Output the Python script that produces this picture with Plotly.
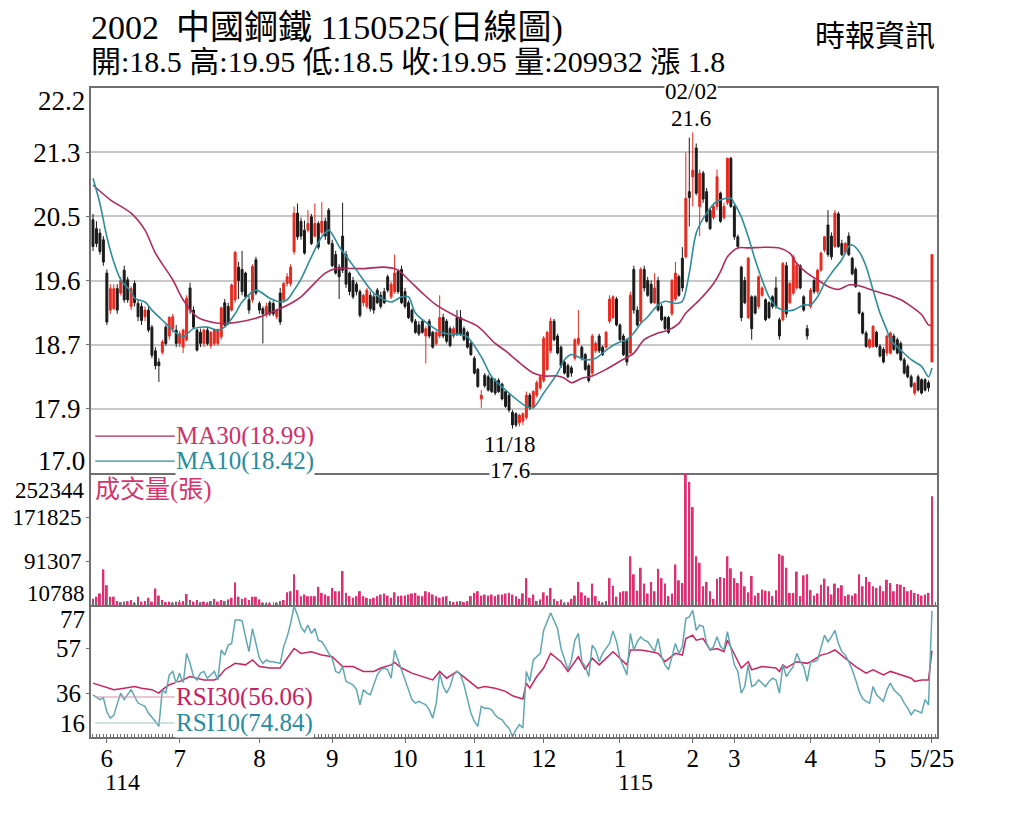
import numpy as np
import plotly.graph_objects as go
from plotly.subplots import make_subplots

title_txt = "2002  中國鋼鐵 1150525(日線圖)"
source_txt = "時報資訊"

# x axis: trading-day index, month labels at the first session of each month
month_idx = [4, 25, 48, 69, 90, 110, 130, 152, 173, 185, 207, 227, 242]
month_txt = ["6", "7", "8", "9", "10", "11", "12", "1", "2", "3", "4", "5", "5/25"]
year_idx = [4, 152]
year_txt = ["114", "115"]
hi_date = "02/02"
lo_date = "11/18"

# daily candles, 114/05/26 .. 115/05/25
opens = [
    20.42, 20.30, 20.24, 20.15,
    19.70, 19.20, 19.22, 19.49, 19.43, 19.74, 19.61, 19.25, 19.56, 19.29, 19.25, 19.11, 19.20, 18.97, 18.65, 18.50, 18.63, 18.97, 18.85, 18.95, 18.93,
    18.75, 18.70, 18.80, 19.50, 19.20, 18.93, 18.90, 18.75, 18.93, 18.72, 18.75, 18.75, 18.84, 19.30, 19.25, 19.20, 19.34, 19.78, 19.75, 19.70, 19.34, 19.34, 19.88,
    19.29, 19.22, 19.15, 19.30, 19.29, 19.11, 19.43, 19.34, 19.56, 19.56, 19.99, 20.51, 20.40, 20.28, 20.28, 20.46, 20.20, 20.37, 20.25, 20.40, 20.55,
    20.10, 19.95, 19.78, 20.20, 19.95, 19.70, 19.60, 19.55, 19.45, 19.30, 19.25, 19.40, 19.38, 19.47, 19.40, 19.45, 19.65, 19.38, 19.45, 19.72, 19.75,
    19.45, 19.30, 19.20, 19.05, 19.00, 19.05, 18.85, 19.05, 18.90, 18.75, 18.85, 19.10, 19.05, 18.95, 18.85, 19.10, 19.10, 18.95, 18.90, 18.75,
    18.55, 18.40, 18.00, 18.32, 18.30, 18.28, 18.25, 18.25, 18.20, 18.10, 18.05, 17.82, 17.80, 17.68, 17.70, 17.75, 18.05, 17.90, 18.05, 18.15,
    18.25, 18.40, 18.65, 19.05, 18.85, 18.70, 18.50, 18.45, 18.42, 18.55, 18.75, 18.70, 18.60, 18.45, 18.35, 18.65, 18.85, 18.70, 18.70, 19.05, 19.10, 19.35,
    19.00, 18.85, 18.80, 18.62, 19.75, 19.20, 19.05, 19.75, 19.60, 19.55, 19.30, 19.60, 19.25, 19.10, 19.10, 19.15, 19.35, 19.65, 19.90, 19.92, 20.80,
    21.00, 21.39, 20.60, 21.05, 20.80, 20.55, 20.45, 20.60, 20.78, 20.45, 20.65, 21.25,
    20.60, 20.19, 19.78, 19.60, 19.10, 19.38, 19.38, 19.25, 19.40, 19.34, 19.30, 19.38, 19.50, 19.07, 19.07, 19.80, 19.30, 19.43, 19.50, 19.80, 19.38, 18.95,
    19.25, 19.60, 19.45, 19.74, 20.01, 20.35, 20.20, 20.06, 20.50, 20.10, 19.98, 20.20, 19.90, 19.75, 19.43, 19.16, 18.89, 18.70, 18.71, 18.90,
    18.71, 18.67, 18.62, 18.62, 18.85, 18.80, 18.75, 18.53, 18.44, 18.30, 18.08, 18.30, 18.26, 18.26, 18.22, 18.50,
]
highs = [
    20.50, 20.40, 20.30, 20.20,
    19.75, 19.55, 19.55, 19.55, 19.65, 19.80, 19.65, 19.52, 19.60, 19.35, 19.30, 19.25, 19.25, 19.00, 18.70, 18.55, 18.80, 19.00, 19.12, 19.15, 19.00,
    18.92, 18.95, 19.40, 19.57, 19.25, 18.95, 18.95, 18.95, 18.97, 18.92, 18.95, 18.95, 19.25, 19.35, 19.30, 19.56, 20.00, 19.85, 20.00, 19.72, 19.40, 19.82, 19.92,
    19.32, 19.25, 19.30, 19.33, 19.32, 19.22, 19.50, 19.58, 19.70, 19.82, 20.60, 20.64, 20.45, 20.41, 20.55, 20.50, 20.64, 20.40, 20.66, 20.45, 20.58,
    20.15, 20.00, 19.82, 20.65, 20.00, 19.72, 19.65, 19.58, 19.48, 19.42, 19.50, 19.45, 19.42, 19.50, 19.45, 19.50, 19.68, 19.58, 19.95, 19.75, 19.80,
    19.50, 19.33, 19.22, 19.08, 19.05, 19.08, 18.98, 19.08, 18.92, 18.92, 19.40, 19.15, 19.08, 18.98, 18.98, 19.20, 19.20, 18.98, 18.92, 18.78,
    18.58, 18.42, 18.12, 18.35, 18.33, 18.30, 18.28, 18.28, 18.22, 18.12, 18.08, 17.85, 17.82, 17.80, 17.82, 18.10, 18.08, 18.12, 18.25, 18.32,
    18.85, 18.92, 19.10, 19.08, 18.88, 18.72, 18.52, 18.48, 18.45, 18.82, 19.20, 18.72, 18.62, 18.48, 18.88, 18.78, 18.88, 18.72, 18.92, 19.40, 19.40, 19.38,
    19.02, 18.88, 18.82, 19.45, 19.80, 19.25, 19.78, 19.80, 19.65, 19.60, 19.70, 19.65, 19.28, 19.12, 19.12, 19.62, 19.85, 19.68, 20.05, 21.33, 21.53,
    21.60, 21.45, 21.10, 21.08, 20.85, 20.58, 20.65, 21.10, 20.80, 20.65, 21.26, 21.27,
    20.62, 20.22, 19.80, 19.65, 19.92, 19.40, 19.40, 19.67, 19.52, 19.36, 19.32, 19.40, 19.65, 19.10, 19.85, 19.85, 19.58, 19.95, 19.85, 19.82, 19.40, 19.00,
    19.50, 19.63, 19.76, 19.99, 20.20, 20.55, 20.25, 20.55, 20.53, 20.15, 20.12, 20.25, 19.92, 19.78, 19.45, 19.18, 18.92, 18.82, 19.00, 18.92,
    18.74, 18.70, 18.87, 18.91, 18.88, 18.83, 18.78, 18.56, 18.47, 18.33, 18.23, 18.33, 18.28, 18.28, 18.25, 19.95,
]
lows = [
    20.00, 20.05, 19.95, 19.80,
    19.00, 19.15, 19.20, 19.15, 19.40, 19.30, 19.30, 19.20, 19.25, 19.05, 19.00, 19.05, 18.90, 18.55, 18.40, 18.23, 18.60, 18.72, 18.80, 18.90, 18.70,
    18.70, 18.62, 18.78, 19.15, 18.95, 18.64, 18.70, 18.70, 18.72, 18.68, 18.72, 18.72, 18.80, 18.98, 19.00, 19.18, 19.30, 19.35, 19.40, 19.35, 19.15, 19.30, 19.40,
    19.15, 18.75, 19.10, 19.12, 19.12, 19.08, 19.00, 19.30, 19.52, 19.52, 19.95, 20.15, 20.15, 19.95, 20.25, 20.08, 20.18, 20.02, 20.22, 20.15, 20.08,
    19.78, 19.68, 19.35, 19.70, 19.50, 19.40, 19.35, 19.40, 19.10, 19.25, 19.22, 19.18, 19.15, 19.28, 19.22, 19.28, 19.44, 19.35, 19.42, 19.42, 19.28,
    19.22, 19.08, 19.02, 18.88, 18.85, 18.88, 18.48, 18.82, 18.68, 18.72, 18.82, 18.82, 18.75, 18.70, 18.82, 18.85, 18.85, 18.78, 18.68, 18.58,
    18.33, 18.15, 17.88, 18.15, 18.10, 18.08, 18.05, 18.08, 17.98, 17.88, 17.82, 17.60, 17.62, 17.63, 17.65, 17.72, 17.85, 17.88, 18.02, 18.12,
    18.22, 18.38, 18.62, 18.78, 18.60, 18.42, 18.33, 18.28, 18.30, 18.52, 18.72, 18.52, 18.38, 18.22, 18.32, 18.62, 18.62, 18.58, 18.68, 19.02, 19.08, 18.98,
    18.78, 18.58, 18.45, 18.60, 19.15, 18.98, 19.02, 19.45, 19.38, 19.28, 19.28, 19.18, 19.05, 18.93, 18.88, 19.12, 19.32, 19.38, 19.45, 19.90, 20.33,
    20.60, 20.75, 20.20, 20.65, 20.38, 20.28, 20.42, 20.55, 20.38, 20.42, 20.62, 20.58,
    20.15, 20.04, 19.05, 19.28, 19.08, 18.80, 19.14, 19.22, 19.38, 19.05, 19.08, 19.22, 19.22, 18.80, 19.05, 19.10, 19.28, 19.40, 19.48, 19.48, 19.18, 18.80,
    19.22, 19.42, 19.42, 19.72, 19.98, 19.92, 19.88, 20.04, 20.04, 19.93, 19.96, 19.93, 19.67, 19.50, 19.14, 18.87, 18.69, 18.68, 18.69, 18.69,
    18.56, 18.48, 18.58, 18.60, 18.65, 18.60, 18.51, 18.33, 18.28, 18.15, 18.05, 18.10, 18.06, 18.10, 18.10, 18.50,
]
closes = [
    20.06, 20.10, 19.99, 19.85,
    19.04, 19.49, 19.49, 19.20, 19.60, 19.34, 19.34, 19.49, 19.30, 19.11, 19.06, 19.20, 18.93, 18.59, 18.45, 18.45, 18.77, 18.75, 19.10, 19.11, 18.75,
    18.88, 18.93, 19.36, 19.20, 18.97, 18.66, 18.75, 18.93, 18.75, 18.90, 18.93, 18.93, 19.23, 19.00, 19.02, 19.54, 19.98, 19.60, 19.45, 19.38, 19.20, 19.79, 19.43,
    19.20, 19.15, 19.25, 19.15, 19.15, 19.20, 19.04, 19.56, 19.65, 19.78, 20.51, 20.19, 20.20, 19.97, 20.37, 20.10, 20.37, 20.05, 20.40, 20.20, 20.10,
    19.80, 19.70, 19.65, 19.74, 19.55, 19.45, 19.38, 19.45, 19.13, 19.40, 19.47, 19.22, 19.20, 19.30, 19.25, 19.30, 19.47, 19.55, 19.70, 19.45, 19.30,
    19.25, 19.10, 19.05, 18.90, 18.88, 18.90, 18.95, 18.85, 18.70, 18.90, 19.10, 18.85, 18.78, 18.72, 18.95, 18.88, 18.88, 18.80, 18.70, 18.60,
    18.35, 18.17, 18.05, 18.18, 18.12, 18.10, 18.08, 18.10, 18.00, 17.90, 17.85, 17.65, 17.65, 17.78, 17.80, 18.05, 17.88, 18.10, 18.22, 18.30,
    18.82, 18.90, 19.05, 18.80, 18.62, 18.45, 18.35, 18.30, 18.35, 18.80, 18.82, 18.55, 18.40, 18.25, 18.85, 18.75, 18.65, 18.60, 18.90, 19.35, 19.38, 19.00,
    18.80, 18.60, 18.50, 19.40, 19.20, 19.00, 19.75, 19.50, 19.40, 19.30, 19.50, 19.20, 19.07, 18.95, 18.90, 19.60, 19.70, 19.40, 19.50, 20.71, 20.72,
    21.09, 20.78, 21.05, 20.70, 20.40, 20.30, 20.60, 21.00, 20.40, 20.60, 21.25, 20.60,
    20.19, 20.06, 19.10, 19.30, 19.90, 18.95, 19.16, 19.65, 19.50, 19.07, 19.10, 19.25, 19.25, 18.85, 19.83, 19.15, 19.56, 19.92, 19.80, 19.50, 19.20, 18.85,
    19.47, 19.45, 19.74, 19.97, 20.19, 19.95, 19.92, 20.51, 20.06, 19.95, 20.10, 19.95, 19.69, 19.52, 19.16, 18.89, 18.71, 18.80, 18.98, 18.71,
    18.58, 18.50, 18.85, 18.89, 18.67, 18.62, 18.53, 18.35, 18.30, 18.17, 18.21, 18.12, 18.08, 18.12, 18.15, 19.95,
]
# volume, in lots (張)
volumes = [
    22000, 26000, 32000, 76000,
    47000, 26000, 26000, 18000, 16000, 17000, 18000, 20000, 15000, 26000, 17000, 18000, 24000, 17000, 41000, 28000, 20000, 16000, 17000, 15000, 17000,
    16000, 18000, 31000, 20000, 17000, 20000, 16000, 17000, 15000, 18000, 22000, 17000, 20000, 18000, 21000, 24000, 52000, 26000, 22000, 24000, 20000, 26000, 26000,
    21000, 15000, 14000, 14000, 10788, 15000, 18000, 20000, 34000, 36000, 67000, 38000, 27000, 30000, 27000, 27000, 27000, 44000, 33000, 30000, 27000,
    42000, 36000, 36000, 73000, 33000, 27000, 24000, 27000, 36000, 27000, 24000, 22000, 24000, 27000, 30000, 32000, 28000, 24000, 34000, 27000, 28000,
    28000, 30000, 32000, 33000, 28000, 27000, 36000, 34000, 30000, 27000, 24000, 26000, 27000, 18000, 16000, 17000, 18000, 16000, 18000, 27000,
    33000, 36000, 28000, 30000, 28000, 30000, 27000, 30000, 30000, 32000, 33000, 30000, 27000, 22000, 32000, 60000, 24000, 30000, 18000, 21000,
    34000, 28000, 42000, 22000, 18000, 21000, 15000, 16000, 22000, 28000, 53000, 34000, 28000, 24000, 50000, 27000, 18000, 15000, 18000, 60000, 46000, 26000,
    34000, 36000, 36000, 100000, 67000, 37000, 79000, 50000, 32000, 53000, 36000, 77000, 60000, 50000, 27000, 32000, 85000, 56000, 51000, 252344, 236000,
    190000, 100000, 88000, 45000, 53000, 36000, 22000, 59000, 62000, 60000, 100000, 78000,
    60000, 51000, 72000, 45000, 34000, 64000, 28000, 33000, 39000, 37000, 36000, 27000, 38000, 104000, 101000, 79000, 33000, 33000, 72000, 27000, 65000, 67000,
    38000, 28000, 32000, 48000, 59000, 45000, 30000, 50000, 42000, 47000, 27000, 30000, 28000, 32000, 67000, 45000, 62000, 53000, 45000, 42000,
    46000, 36000, 57000, 51000, 36000, 49000, 48000, 44000, 36000, 38000, 33000, 31000, 28000, 30000, 33000, 209932,
]

# moving averages (day index, value)
ma10_x = [0, 2, 4, 6, 8, 11, 12, 15, 17, 21, 24, 26, 29, 33, 36, 38, 41, 43, 47, 51, 54, 56, 58, 60, 63, 66, 68, 71, 76, 81, 86, 89, 91, 93, 97,
          101, 106, 108, 112, 115, 119, 125, 127, 130, 134, 136, 138, 142, 145, 148, 151, 154, 156, 158, 160, 163, 165, 168, 170, 172, 174, 177,
          180, 184, 185, 187, 189, 191, 193, 195, 197, 199, 202, 205, 207, 209, 211, 213, 216, 218, 219, 221, 223, 225, 227, 229, 230, 233, 236,
          239, 241, 242]
ma10 = [20.98, 20.64, 20.19, 19.85, 19.61, 19.45, 19.36, 19.31, 19.20, 19.02, 18.89, 18.84, 18.95, 18.97, 18.93, 18.97, 19.15, 19.31, 19.47,
        19.36, 19.31, 19.34, 19.47, 19.62, 19.92, 20.19, 20.28, 20.06, 19.74, 19.43, 19.31, 19.38, 19.38, 19.16, 19.00, 18.89, 18.87, 18.84,
        18.57, 18.30, 18.12, 17.90, 17.88, 18.08, 18.35, 18.53, 18.60, 18.53, 18.55, 18.66, 18.75, 18.80, 18.89, 19.02, 19.11, 19.27, 19.32,
        19.29, 19.32, 19.70, 20.24, 20.51, 20.67, 20.71, 20.64, 20.46, 20.19, 19.88, 19.61, 19.38, 19.25, 19.20, 19.20, 19.27, 19.27, 19.38,
        19.56, 19.70, 19.88, 20.06, 20.08, 19.99, 19.79, 19.47, 19.16, 18.93, 18.80, 18.66, 18.53, 18.44, 18.30, 18.42]
ma30_x = [0, 5, 11, 15, 18, 23, 26, 30, 34, 37, 42, 47, 52, 57, 60, 63, 67, 70, 78, 84, 88, 91, 95, 99, 105, 111, 116, 119, 121, 123, 127,
          130, 134, 136, 138, 141, 144, 148, 152, 156, 159, 163, 166, 169, 171, 175, 179, 181, 183, 186, 189, 194, 198, 201, 203, 206, 209,
          212, 215, 218, 220, 223, 226, 229, 233, 236, 239, 241, 242]
ma30 = [20.89, 20.69, 20.51, 20.28, 19.97, 19.61, 19.34, 19.11, 19.04, 19.02, 19.04, 19.09, 19.18, 19.29, 19.38, 19.52, 19.70, 19.76, 19.76,
        19.78, 19.74, 19.61, 19.43, 19.27, 19.11, 18.98, 18.75, 18.65, 18.57, 18.49, 18.35, 18.31, 18.31, 18.28, 18.22, 18.28, 18.31, 18.40,
        18.51, 18.62, 18.80, 18.89, 18.93, 19.02, 19.16, 19.34, 19.56, 19.72, 19.92, 20.04, 20.04, 20.05, 20.04, 19.97, 19.83, 19.70, 19.61,
        19.52, 19.48, 19.54, 19.54, 19.50, 19.45, 19.41, 19.34, 19.25, 19.14, 19.00, 18.99]

# RSI (day index, value)
rsi10_x = [0, 2, 3, 4, 5, 6, 7, 8, 9, 10, 11, 12, 13, 15, 16, 18, 19, 20, 21, 22, 23, 24, 25, 26, 27, 28, 29, 30, 31, 32, 33, 34, 35, 36, 37,
           38, 39, 40, 41, 42, 43, 44, 45, 46, 47, 48, 49, 50, 51, 52, 54, 55, 56, 57, 58, 59, 60, 61, 62, 63, 64, 65, 66, 67, 68, 69, 70, 71,
           72, 73, 74, 75, 76, 77, 78, 79, 80, 81, 82, 83, 84, 85, 86, 87, 88, 89, 90, 91, 92, 93, 94, 95, 96, 97, 98, 99, 100, 101, 102, 103,
           104, 105, 106, 107, 108, 109, 110, 111, 112, 113, 114, 115, 116, 117, 118, 119, 120, 121, 122, 123, 124, 125, 126, 127, 129, 130,
           132, 134, 135, 137, 138, 139, 140, 141, 142, 143, 144, 145, 146, 147, 149, 150, 151, 152, 153, 154, 155, 156, 157, 158, 159, 160,
           161, 162, 163, 164, 165, 166, 167, 168, 169, 170, 171, 172, 173, 174, 175, 176, 177, 178, 179, 180, 181, 182, 183, 184, 185, 186,
           187, 188, 189, 190, 191, 192, 193, 194, 195, 196, 197, 198, 199, 200, 201, 202, 203, 204, 205, 206, 207, 208, 209, 210, 211, 212,
           213, 214, 215, 216, 217, 218, 219, 220, 221, 222, 223, 224, 225, 226, 227, 228, 229, 230, 231, 232, 233, 234, 235, 236, 237, 238,
           239, 240, 241, 242]
rsi10 = [35.3, 33.0, 33.8, 27.3, 24.3, 25.6, 31.0, 36.1, 33.0, 35.3, 37.7, 34.5, 31.4, 29.8, 26.7, 22.7, 20.4, 37.7, 36.0, 44.7, 46.3, 40.8,
         45.5, 40.0, 54.8, 50.1, 43.9, 42.3, 45.5, 46.3, 43.1, 44.7, 46.3, 42.3, 56.4, 54.0, 58.7, 59.5, 70.5, 70.5, 70.2, 62.6, 55.6, 66.5,
         59.5, 52.5, 50.1, 51.7, 50.9, 50.9, 50.1, 58.0, 62.6, 68.9, 77.0, 72.8, 67.3, 64.9, 68.1, 64.2, 66.5, 61.0, 60.3, 57.9, 54.8, 52.5,
         46.3, 45.5, 48.6, 41.6, 40.8, 40.0, 37.7, 30.6, 37.7, 36.1, 35.3, 40.0, 44.7, 47.1, 47.9, 47.1, 43.1, 56.4, 51.7, 46.3, 41.6, 37.7,
         33.0, 31.4, 32.2, 31.4, 30.6, 28.2, 24.3, 31.4, 45.5, 39.2, 36.1, 39.2, 44.7, 46.3, 44.7, 40.0, 33.0, 26.7, 22.7, 20.4, 29.8, 29.0,
         29.0, 28.2, 25.8, 24.3, 23.5, 21.2, 19.6, 15.6, 18.9, 21.2, 19.6, 46.3, 41.6, 51.7, 54.8, 65.7, 73.9, 66.5, 57.1, 47.1, 51.7, 61.0,
         64.2, 50.9, 48.6, 43.9, 58.7, 56.4, 50.9, 54.8, 59.5, 65.4, 60.3, 52.5, 48.6, 44.7, 64.2, 56.4, 60.3, 62.6, 61.0, 60.3, 58.0, 55.6,
         61.8, 53.2, 49.4, 47.1, 53.2, 59.5, 54.8, 58.0, 71.2, 72.0, 75.1, 65.7, 68.1, 67.6, 59.5, 56.4, 58.0, 62.6, 58.0, 56.4, 65.0, 56.4,
         49.4, 46.3, 36.1, 39.2, 49.4, 39.2, 40.0, 42.3, 40.8, 39.2, 41.6, 43.1, 42.3, 36.1, 49.4, 43.9, 46.3, 48.6, 54.8, 50.9, 48.6, 41.6,
         50.9, 50.9, 51.7, 58.0, 63.4, 60.3, 62.6, 65.7, 59.5, 55.6, 54.0, 50.9, 47.1, 42.3, 36.9, 33.5, 32.2, 31.4, 39.2, 35.3, 33.5, 32.2,
         37.7, 40.8, 37.7, 36.0, 34.5, 31.4, 29.0, 25.9, 28.2, 27.5, 26.7, 33.0, 30.6, 74.84]
rsi30_x = [0, 3, 6, 9, 12, 14, 17, 19, 20, 22, 25, 28, 32, 35, 36, 38, 41, 44, 46, 48, 51, 54, 56, 58, 60, 63, 66, 69, 72, 75, 78, 81, 83, 86,
           87, 89, 92, 95, 98, 100, 102, 105, 108, 111, 113, 116, 119, 121, 124, 125, 126, 128, 130, 132, 135, 137, 140, 142, 144, 146, 150,
           152, 154, 155, 158, 161, 163, 165, 168, 170, 171, 173, 174, 176, 178, 180, 182, 183, 185, 187, 189, 190, 193, 197, 198, 199, 200,
           203, 206, 207, 210, 212, 214, 217, 220, 223, 225, 228, 230, 233, 236, 237, 239, 241, 242]
rsi30 = [40.8, 39.2, 37.7, 38.4, 39.2, 38.4, 37.7, 36.1, 37.7, 40.0, 41.6, 43.9, 42.3, 42.3, 43.1, 47.1, 50.1, 49.4, 51.7, 48.6, 47.9, 47.9,
         52.5, 57.1, 54.8, 55.6, 54.0, 53.2, 48.6, 48.6, 46.3, 46.3, 47.9, 49.4, 50.5, 47.9, 45.5, 43.9, 42.3, 46.3, 43.1, 46.3, 42.3, 38.4,
         39.2, 38.4, 36.9, 34.8, 33.3, 40.8, 38.4, 43.9, 47.9, 54.8, 50.9, 46.3, 53.2, 47.1, 52.5, 49.4, 55.6, 52.5, 49.4, 56.4, 56.4, 55.6,
         54.8, 50.9, 54.8, 54.0, 61.8, 63.4, 61.0, 61.8, 56.4, 57.1, 55.6, 61.0, 54.8, 47.9, 50.9, 47.1, 48.6, 47.9, 46.3, 49.4, 48.0, 50.9,
         50.1, 50.9, 54.0, 54.8, 56.4, 52.5, 48.6, 45.5, 47.1, 44.7, 46.3, 44.7, 43.1, 41.6, 42.3, 42.3, 56.06]

price_lo, price_hi = 17.0, 22.2
rsi_lo, rsi_hi = 15.4, 77.6
rsi_ticks = [77, 57, 36, 16]

days = list(range(len(closes)))
up_c = "#e8281e"
dn_c = "#1a1a1a"
ma30_c = "#b02a5b"
ma10_c = "#2f8c9c"
vol_c = "#de2f72"
rsi30_c = "#c9245f"
rsi10_c = "#5fa8b3"
frame_c = "#707070"
SERIF = "Liberation Serif, Noto Sans CJK TC"

fig = make_subplots(rows=3, cols=1, shared_xaxes=True, vertical_spacing=0,
                    row_heights=[385, 132, 132])

fig.add_trace(go.Candlestick(
    x=days, open=opens, high=highs, low=lows, close=closes,
    increasing=dict(line=dict(color=up_c, width=1), fillcolor=up_c),
    decreasing=dict(line=dict(color=dn_c, width=1), fillcolor=dn_c),
    whiskerwidth=0, hoverinfo="skip"), row=1, col=1)
fig.add_trace(go.Scatter(x=ma30_x, y=ma30, mode="lines",
                         line=dict(color=ma30_c, width=1.6, shape="spline", smoothing=0.8)), row=1, col=1)
fig.add_trace(go.Scatter(x=ma10_x, y=ma10, mode="lines",
                         line=dict(color=ma10_c, width=1.6, shape="spline", smoothing=0.8)), row=1, col=1)

fig.add_trace(go.Bar(x=days, y=volumes, marker=dict(color=vol_c, line=dict(width=0)),
                     width=0.55), row=2, col=1)

fig.add_trace(go.Scatter(x=rsi30_x, y=rsi30, mode="lines", line=dict(color=rsi30_c, width=1.5)), row=3, col=1)
fig.add_trace(go.Scatter(x=rsi10_x, y=rsi10, mode="lines", line=dict(color=rsi10_c, width=1.5)), row=3, col=1)

x_range = [-0.575, 243.45]
for r in (1, 2, 3):
    fig.update_xaxes(row=r, col=1, range=x_range, showgrid=False, zeroline=False,
                     showline=True, mirror=(r == 1), linecolor=frame_c, linewidth=2,
                     rangeslider_visible=False)
fig.update_xaxes(row=1, col=1, showticklabels=False, ticks="")
fig.update_xaxes(row=2, col=1, showticklabels=False, ticks="inside", ticklen=5,
                 tickmode="array", tickvals=month_idx, tickcolor=frame_c,
                 minor=dict(ticks="inside", ticklen=3, tickmode="linear", tick0=0, dtick=1,
                            tickcolor=frame_c, tickwidth=1))
fig.update_xaxes(row=3, col=1, showticklabels=True, ticks="outside", ticklen=4,
                 ticklabelstandoff=-6,
                 tickmode="array", tickvals=month_idx, ticktext=month_txt, tickcolor=frame_c,
                 tickfont=dict(family=SERIF, size=25, color="black"),
                 minor=dict(ticks="inside", ticklen=3, tickmode="linear", tick0=0, dtick=1,
                            tickcolor=frame_c, tickwidth=1))

price_ticks = np.linspace(price_lo, price_hi, 7)
fig.update_yaxes(row=1, col=1, range=[price_lo, price_hi],
                 tickmode="array", tickvals=price_ticks[1:-1],
                 ticktext=[f"{v:.1f}" for v in price_ticks[1:-1]],
                 showgrid=True, gridcolor="#c8c8c8", gridwidth=2, zeroline=False,
                 ticks="outside", ticklen=3, tickcolor=frame_c,
                 showline=True, mirror=True, linecolor=frame_c, linewidth=2,
                 tickfont=dict(family=SERIF, size=27, color="black"))

vol_ticks = np.linspace(min(volumes), max(volumes), 4)
fig.update_yaxes(row=2, col=1, range=[vol_ticks[0], vol_ticks[-1]],
                 tickmode="array", tickvals=vol_ticks[1:-1],
                 ticktext=[str(round(v)) for v in vol_ticks[1:-1]],
                 showgrid=False, zeroline=False, ticks="outside", ticklen=3, tickcolor=frame_c,
                 showline=True, mirror=True, linecolor=frame_c, linewidth=2,
                 tickfont=dict(family=SERIF, size=23, color="black"))

fig.update_yaxes(row=3, col=1, range=[rsi_lo, rsi_hi],
                 tickmode="array", tickvals=rsi_ticks[1:-1], ticktext=[str(v) for v in rsi_ticks[1:-1]],
                 showgrid=False, zeroline=False, ticks="outside", ticklen=3, tickcolor=frame_c,
                 showline=True, mirror=True, linecolor=frame_c, linewidth=2,
                 tickfont=dict(family=SERIF, size=25, color="black"))

ann = []
# end labels of each panel's value axis, pulled inside the panel like the original
end_labels = [
    ("y", 1, -13, f"{price_ticks[-1]:.1f}", 27), ("y", 0, 12, f"{price_ticks[0]:.1f}", 27),
    ("y2", 1, -17, str(round(vol_ticks[-1])), 23), ("y2", 0, 12, str(round(vol_ticks[0])), 23),
    ("y3", 1, -14, str(rsi_ticks[0]), 25), ("y3", 0, 14, str(rsi_ticks[-1]), 25),
]
for ax, yy, sh, txt, fs in end_labels:
    ann.append(dict(xref="paper", x=0, xanchor="right", xshift=-4,
                    yref=f"{ax} domain", y=yy, yanchor="middle", yshift=sh,
                    text=txt, showarrow=False, font=dict(family=SERIF, size=fs, color="black")))

# high / low markers
hi_i = int(np.argmax(highs))
lo_i = int(np.argmin(lows))
for txt, yy, xi, anchor, sh in [
    (hi_date, highs[hi_i], hi_i, "bottom", 27), (f"{highs[hi_i]:g}", highs[hi_i], hi_i, "bottom", 0),
    (lo_date, lows[lo_i], lo_i, "top", -2), (f"{lows[lo_i]:g}", lows[lo_i], lo_i, "top", -28),
]:
    ann.append(dict(xref="x", x=xi, yref="y", y=yy, yanchor=anchor, yshift=sh, xshift=-2,
                    text=txt, showarrow=False, bgcolor="white", borderpad=0,
                    font=dict(family=SERIF, size=23, color="black")))

# line legends
shapes = []
legend_rows = [
    ("y", 0.096, f"MA30({ma30[-1]:.2f})", ma30_c, "#d0306a"),
    ("y", 0.031, f"MA10({ma10[-1]:.2f})", ma10_c, "#2a8ca0"),
    ("y3", 0.303, f"RSI30({rsi30[-1]:.2f})", "#d890a8", "#c8205e"),
    ("y3", 0.106, f"RSI10({rsi10[-1]:.2f})", "#9cc4c8", "#2a8ca0"),
]
for ax, yy, txt, lc, tc in legend_rows:
    shapes.append(dict(type="line", xref="paper", x0=0.005, x1=0.099,
                       yref=f"{ax} domain", y0=yy, y1=yy, line=dict(color=lc, width=1.2)))
    ann.append(dict(xref="paper", x=0.099, xanchor="left", yref=f"{ax} domain", y=yy,
                    yanchor="middle", text=txt, showarrow=False, bgcolor="white", borderpad=0,
                    font=dict(family=SERIF, size=25, color=tc)))

ann.append(dict(xref="paper", x=0.002, xanchor="left", yref="y2 domain", y=0.871, yanchor="middle",
                text="成交量(張)", showarrow=False,
                font=dict(family=SERIF, size=25, color="#d6336c")))

# year labels under the month ticks
for xi, txt in zip(year_idx, year_txt):
    ann.append(dict(xref="x3", x=xi, xanchor="left", xshift=-4, yref="paper", y=0, yanchor="middle",
                    yshift=-45, text=txt, showarrow=False, font=dict(family=SERIF, size=24, color="black")))

# header
last = len(closes) - 1
header = (f"開:{opens[last]:g} 高:{highs[last]:g} 低:{lows[last]:g} 收:{closes[last]:g} "
          f"量:{volumes[last]} 漲 {closes[last] - closes[last - 1]:.1f}")
ann.append(dict(xref="paper", x=0, xanchor="left", xshift=-2, yref="paper", y=1, yanchor="middle",
                yshift=60, text=title_txt, showarrow=False, font=dict(family=SERIF, size=34, color="black")))
ann.append(dict(xref="paper", x=0, xanchor="left", xshift=-2, yref="paper", y=1, yanchor="middle",
                yshift=27, text=header, showarrow=False, font=dict(family=SERIF, size=30, color="black")))
ann.append(dict(xref="paper", x=1, xanchor="right", yref="paper", y=1, yanchor="middle",
                yshift=53, text=source_txt, showarrow=False, font=dict(family=SERIF, size=30, color="black")))

fig.update_layout(
    width=1024, height=819,
    margin=dict(l=88, r=87, t=88, b=82),
    paper_bgcolor="white", plot_bgcolor="white",
    showlegend=False, boxgap=0.2, bargap=0.4,
    annotations=ann, shapes=shapes,
    font=dict(family=SERIF, color="black"),
)

fig.write_html("out.html", config={"displayModeBar": False},
               post_script="document.body.style.margin='0';")
